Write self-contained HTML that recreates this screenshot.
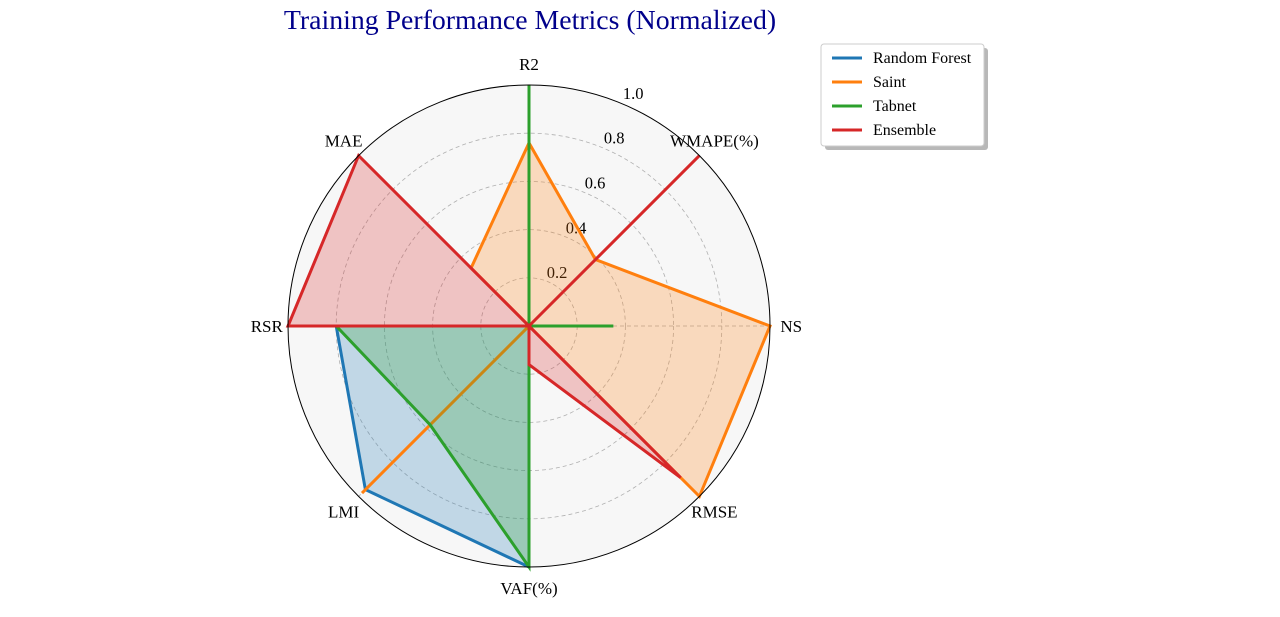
<!DOCTYPE html>
<html><head><meta charset="utf-8"><style>
body{margin:0;background:#fff;width:1280px;height:612px;overflow:hidden}
svg{font-family:"Liberation Serif",serif}
</style></head><body>
<svg id="chart" width="1280" height="612" xmlns="http://www.w3.org/2000/svg">
<text x="530" y="29" text-anchor="middle" font-size="27.8" fill="#00008b">Training Performance Metrics (Normalized)</text>
<g id="plot"></g>
<g>
<rect x="825" y="48" width="163" height="102" rx="3" fill="#888" opacity="0.6"/>
<rect x="821" y="44" width="163" height="102" rx="3" fill="#fff" stroke="#ccc"/>
<g id="legend-items"></g>
</g>
</svg>
<script>
const categories=["R2","WMAPE(%)","NS","RMSE","VAF(%)","LMI","RSR","MAE"];
const seriesNames=["Random Forest","Saint","Tabnet","Ensemble"];
const colors=["#1f77b4","#ff7f0e","#2ca02c","#d62728"];
const rfValues=[0,0,0,0,1.0,0.96,0.80,0];
const saintValues=[0.76,0.39,1.0,1.0,0,0.98,0,0.34];
const tabnetValues=[1.0,0,0.35,0,1.0,0.58,0.80,0];
const ensembleValues=[0,1.0,0,0.89,0.16,0,1.0,1.0];
const rTicks=[0.2,0.4,0.6,0.8,1.0];
const allSeries=[rfValues,saintValues,tabnetValues,ensembleValues];
const cx=529,cy=326,R=241,NS="http://www.w3.org/2000/svg";
const g=document.getElementById('plot');
function ang(i){return -Math.PI/2+i*2*Math.PI/categories.length;}
function pt(i,v){return [cx+R*v*Math.cos(ang(i)),cy+R*v*Math.sin(ang(i))];}
function mk(t,a,p){const e=document.createElementNS(NS,t);for(const k in a)e.setAttribute(k,a[k]);(p||g).appendChild(e);return e;}
const bg=mk('circle',{cx:cx,cy:cy,r:R,fill:'#f7f7f7'});


rTicks.forEach(t=>{if(t<1){const c=mk('circle',{cx:cx,cy:cy,r:R*t,fill:'none',stroke:'#b0b0b0','stroke-dasharray':'4,3','stroke-width':0.8});

}});
categories.forEach((c,i)=>{const p=pt(i,1);const l=mk('line',{x1:cx,y1:cy,x2:p[0],y2:p[1],stroke:'#b0b0b0','stroke-dasharray':'4,3','stroke-width':0.8});


const q=pt(i,1.088);const t=mk('text',{x:q[0],y:q[1]+6,'text-anchor':'middle','font-size':17});t.textContent=c;

});
rTicks.forEach(t=>{const x=cx+9+R*t*0.395,y=cy-15-R*t*0.93+12;
const tx=mk('text',{x:x,y:y,'text-anchor':'middle','font-size':16.5});tx.textContent=t.toFixed(1);

});
allSeries.forEach((vals,s)=>{const pts=vals.map((v,i)=>pt(i,v).join(',')).join(' ');
const f=mk('polygon',{points:pts,fill:colors[s],'fill-opacity':0.25,stroke:'none'});


const l=mk('polygon',{points:pts,fill:'none',stroke:colors[s],'stroke-width':3,'stroke-linejoin':'miter'});

});
const oc=mk('circle',{cx:cx,cy:cy,r:R,fill:'none',stroke:'#000','stroke-width':1});


const lg=document.getElementById('legend-items');
seriesNames.forEach((n,s)=>{const y=58+s*24;
const l=mk('line',{x1:832,y1:y,x2:862,y2:y,stroke:colors[s],'stroke-width':3},lg);


const t=mk('text',{x:873,y:y+5,'font-size':16},lg);t.textContent=n;

});
</script>
</body></html>
